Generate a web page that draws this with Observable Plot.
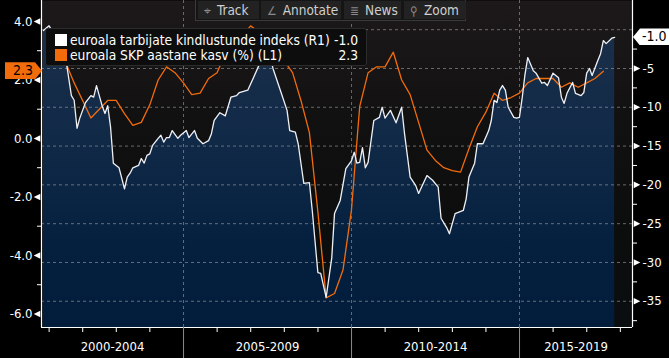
<!DOCTYPE html>
<html><head><meta charset="utf-8">
<script src="https://cdn.jsdelivr.net/npm/d3@7"></script>
<script src="https://cdn.jsdelivr.net/npm/@observablehq/plot@0.6"></script>
<style>
html,body{margin:0;padding:0;background:#000;overflow:hidden;}
#wrap{position:relative;width:669px;height:358px;overflow:hidden;font-family:"DejaVu Sans Condensed","DejaVu Sans",sans-serif;font-stretch:condensed;color:#fff;}
#wrap svg{position:absolute;left:0;top:0;}
.ov{position:absolute;box-sizing:border-box;}
#legend{left:45px;top:28px;width:322px;height:38px;background:#0d0d0d;border:1px solid #2c2c2c;border-radius:3px;}
.lrow{position:absolute;left:0;width:100%;height:15px;font-size:13.7px;line-height:15px;}
.sw{position:absolute;left:9px;top:1px;width:12px;height:12px;}
.lt{position:absolute;left:24px;top:0;white-space:nowrap;}
.lv{position:absolute;right:8px;top:0;}
#toolbar{left:195px;top:0;width:271px;height:21px;background:#151515;border:1px solid #3a3a3a;border-top:none;}
.btn{position:absolute;top:1px;height:18px;background:#222;color:#cfcfcf;font-size:13.5px;line-height:18px;white-space:nowrap;}
.btn .ic{color:#8a8a8a;margin:0 6px 0 6px;font-size:12px;}
.tag{position:absolute;height:17px;font-size:14px;line-height:17px;color:#000;}
</style></head>
<body><div id="wrap"></div>
<script>
// ---- data ----
const confMonths = ["2000-10","2000-12","2001-01","2001-02","2001-04","2001-06","2001-08","2001-09","2001-10","2001-11",
"2002-01","2002-03","2002-04","2002-05","2002-06","2002-07","2002-08","2002-09","2002-10","2002-11",
"2003-01","2003-03","2003-04","2003-05","2003-06","2003-08","2003-09","2003-10","2003-11","2003-12",
"2004-01","2004-03","2004-04","2004-05","2004-06","2004-07","2004-08","2004-10","2004-11",
"2005-01","2005-02","2005-04","2005-05","2005-07","2005-09","2005-10","2005-11",
"2006-01","2006-03","2006-05","2006-07","2006-08","2006-11",
"2007-01","2007-03","2007-05","2007-06","2007-08","2007-11",
"2008-01","2008-02","2008-04","2008-05","2008-07","2008-09","2008-10","2008-12",
"2009-01","2009-03","2009-05","2009-06","2009-08","2009-10","2009-12",
"2010-01","2010-02","2010-03","2010-04","2010-05","2010-06","2010-08","2010-10","2010-11","2010-12",
"2011-02","2011-04","2011-06","2011-07","2011-09","2011-11","2011-12",
"2012-03","2012-05","2012-07","2012-08","2012-10","2012-11",
"2013-01","2013-04","2013-05","2013-06","2013-08","2013-09","2013-11",
"2014-01","2014-02","2014-03","2014-04","2014-05","2014-06","2014-07","2014-08","2014-10","2014-11","2014-12",
"2015-01","2015-02","2015-03","2015-05","2015-06","2015-08","2015-09","2015-10","2015-12",
"2016-02","2016-03","2016-04","2016-05","2016-07","2016-08","2016-10","2016-11","2016-12",
"2017-01","2017-02","2017-04","2017-05","2017-06","2017-07","2017-09","2017-10"];
const confValues = [-0.1,0.5,-0.1,-0.5,-2.0,-3.7,-8.5,-9.1,-12.7,-11.4,
-9.4,-8.5,-8.7,-7.2,-8.5,-9.8,-10.8,-9.8,-12.6,-17.2,
-17.8,-20.5,-19.0,-18.5,-17.8,-17.5,-16.6,-17.2,-16.2,-16.0,
-14.9,-14.0,-13.6,-14.5,-13.9,-13.9,-13.0,-14.0,-13.6,
-13.0,-13.9,-13.0,-14.0,-14.7,-14.3,-13.4,-11.7,
-10.7,-11.1,-8.7,-8.5,-8.1,-7.8,
-6.2,-4.6,-1.6,-1.7,-5.0,-8.2,
-10.4,-13.0,-13.2,-14.7,-19.8,-19.7,-23.3,-31.3,
-31.4,-34.5,-29.4,-23.7,-22.0,-17.9,-16.9,
-15.8,-17.2,-17.1,-15.2,-17.8,-17.1,-11.7,-11.3,-10.0,-11.4,
-10.4,-12.0,-10.0,-13.4,-19.0,-20.1,-21.1,
-18.8,-19.4,-20.3,-24.3,-25.5,-26.3,
-23.7,-23.3,-21.8,-19.0,-17.2,-14.7,-14.7,
-13.0,-11.7,-9.1,-9.4,-7.8,-7.2,-7.8,-10.0,-11.3,-11.4,-11.3,
-8.7,-5.9,-3.6,-5.3,-5.6,-6.9,-6.8,-7.2,-5.6,
-6.2,-8.7,-9.5,-8.2,-6.8,-8.2,-8.5,-8.1,-5.6,
-5.0,-5.9,-4.0,-3.1,-1.4,-1.8,-1.1,-1.0];

const gdpQuarters = ["2000Q4",
"2001Q1","2001Q2","2001Q3","2001Q4","2002Q1","2002Q2","2002Q3","2002Q4",
"2003Q1","2003Q2","2003Q3","2003Q4","2004Q1","2004Q2","2004Q3","2004Q4",
"2005Q1","2005Q2","2005Q3","2005Q4","2006Q1","2006Q2","2006Q3","2006Q4",
"2007Q1","2007Q2","2007Q3","2007Q4","2008Q1","2008Q2","2008Q3","2008Q4",
"2009Q1","2009Q2","2009Q3","2009Q4","2010Q1","2010Q2","2010Q3","2010Q4",
"2011Q1","2011Q2","2011Q3","2011Q4","2012Q1","2012Q2","2012Q3","2012Q4",
"2013Q1","2013Q2","2013Q3","2013Q4","2014Q1","2014Q2","2014Q3","2014Q4",
"2015Q1","2015Q2","2015Q3","2015Q4","2016Q1","2016Q2","2016Q3","2016Q4",
"2017Q1","2017Q2"];
const gdpValues = [3.5,
3.0,2.6,1.9,1.3,0.7,1.0,1.3,1.3,
0.85,0.45,0.55,1.15,2.0,2.45,2.25,1.9,
1.5,1.55,2.05,2.25,2.9,3.3,3.5,3.85,
3.65,3.35,3.0,2.65,2.25,1.3,0.2,-2.5,
-5.45,-5.3,-4.5,-2.45,1.1,2.25,2.45,2.45,
2.95,2.0,1.5,0.55,-0.4,-0.75,-1.0,-1.1,
-1.15,-0.35,0.4,0.9,1.55,1.3,1.4,1.55,
1.9,2.05,2.05,2.05,1.75,1.9,1.75,1.9,
2.05,2.3];

const rightTicks = [-5,-10,-15,-20,-25,-30,-35];
const rightMinor = [-2.5,-7.5,-12.5,-17.5,-22.5,-27.5,-32.5,-37.5];
const gridTicks = [0,-5,-10,-15,-20,-25,-30,-35];
const leftTicks = [4,2,0,-2,-4,-6];
const leftMinor = [3,1,-1,-3,-5];
const yearTicks = [2001,2002,2003,2004,2006,2007,2008,2009,2011,2012,2013,2014,2016,2017,2018];
const separatorYears = [2005,2010,2015];
const periodLabels = ["2000-2004","2005-2009","2010-2014","2015-2019"];
const periodStarts = [2000,2005,2010,2015];
const seriesNames = ["euroala tarbijate kindlustunde indeks (R1)","euroala SKP aastane kasv (%) (L1)"];
const seriesColors = ["#ffffff","#f36c0c"];

// ---- helpers ----
const monthEnd = s => { const [y,m] = s.split("-").map(Number); return new Date(Date.UTC(y, m, 0)); };
const quarterEnd = s => { const y = +s.slice(0,4), q = +s.slice(5); return new Date(Date.UTC(y, q*3, 0)); };
const yearDate = y => new Date(Date.UTC(y,0,1));
// left axis (GDP) expressed on the right-axis (confidence) scale
const toRight = g => -14.02 + 3.769*g;
const fromRight = c => (c + 14.02)/3.769;

const conf = confMonths.map((s,i) => ({date: monthEnd(s), value: confValues[i]}));
const gdp = gdpQuarters.map((s,i) => ({date: quarterEnd(s), value: toRight(gdpValues[i])}));

const xDomain = [new Date(Date.UTC(2000,9,10)), new Date(Date.UTC(2018,4,13))];
const yDomain = [-38.38, 3.76];
const periods = periodLabels.map((label,i) => {
  const a = Math.max(+yearDate(periodStarts[i]), +xDomain[0]);
  const b = Math.min(+yearDate(periodStarts[i]+5), +xDomain[1]);
  return {label, center: new Date((a+b)/2)};
});

const leftArrow = {draw(ctx, size){ const r = Math.sqrt(size/Math.PI); ctx.moveTo(-r,0); ctx.lineTo(r,-r); ctx.lineTo(r,r); ctx.closePath(); }};
const rightArrow = {draw(ctx, size){ const r = Math.sqrt(size/Math.PI); ctx.moveTo(r,0); ctx.lineTo(-r,-r); ctx.lineTo(-r,r); ctx.closePath(); }};
const FONT = '"DejaVu Sans Condensed","DejaVu Sans",sans-serif';

const plot = Plot.plot({
  width: 669, height: 358,
  marginLeft: 41, marginRight: 37, marginTop: 0, marginBottom: 31,
  style: {background: "transparent", color: "#fff", fontFamily: FONT, fontSize: "13px", fontStretch: "condensed", overflow: "visible"},
  x: {type: "utc", domain: xDomain, axis: null, label: null},
  y: {domain: yDomain, axis: null, label: null},
  marks: [
    Plot.frame({fill: "url(#bgGrad)", stroke: "none"}),
    Plot.areaY(conf, {x: "date", y1: yDomain[0], y2: "value", fill: "url(#areaGrad)"}),
    Plot.gridY(gridTicks, {stroke: "#9a9a9a", strokeOpacity: 0.65, strokeDasharray: "3,3"}),
    Plot.gridX(separatorYears.map(yearDate), {stroke: "#9a9a9a", strokeOpacity: 0.65, strokeDasharray: "3,3"}),
    Plot.lineY(gdp, {x: "date", y: "value", stroke: seriesColors[1], strokeWidth: 1.3}),
    Plot.lineY(conf, {x: "date", y: "value", stroke: "#f0f0f4", strokeWidth: 1.3}),
    Plot.ruleX(xDomain, {stroke: "#fff", strokeWidth: 1.2}),
    Plot.ruleY([yDomain[0]], {stroke: "#fff", strokeWidth: 1.2}),
    // left axis (L1)
    Plot.axisY(leftTicks.map(toRight), {anchor: "left", label: null, tickSize: 0, tickPadding: 9, tickFormat: v => fromRight(v).toFixed(1), fill: "#fff", fontSize: 13}),
    Plot.axisY(leftMinor.map(toRight), {anchor: "left", label: null, tickSize: 4, tickFormat: () => "", stroke: "#fff"}),
    Plot.dot(leftTicks.map(toRight), {x: () => xDomain[0], y: d => d, symbol: leftArrow, r: 3.3, fill: "#fff", stroke: "none", dx: -4.5}),
    // right axis (R1)
    Plot.axisY(rightTicks, {anchor: "right", label: null, tickSize: 0, tickPadding: 10, tickFormat: v => String(v), fill: "#fff", fontSize: 13}),
    Plot.axisY(rightMinor, {anchor: "right", label: null, tickSize: 4, tickFormat: () => "", stroke: "#fff"}),
    Plot.dot(rightTicks, {x: () => xDomain[1], y: d => d, symbol: rightArrow, r: 3.3, fill: "#fff", stroke: "none", dx: 4.5}),
    // x axis
    Plot.axisX(yearTicks.map(yearDate), {anchor: "bottom", label: null, tickSize: 5, tickFormat: () => "", stroke: "#fff"}),
    Plot.axisX(separatorYears.map(yearDate), {anchor: "bottom", label: null, tickSize: 31, tickFormat: () => "", stroke: "#8a8a8a"}),
    Plot.text(periods, {x: "center", text: "label", frameAnchor: "bottom", dy: 23, fill: "#fff", fontSize: 13})
  ]
});

// gradients
const svg = d3.select(plot);
const defs = svg.insert("defs", ":first-child");
const bg = defs.append("linearGradient").attr("id","bgGrad").attr("gradientUnits","userSpaceOnUse").attr("x1",0).attr("y1",0).attr("x2",0).attr("y2",327);
[["0","#1d191a"],["0.35","#121112"],["0.7","#0c0d0d"],["1","#0a0e10"]].forEach(([o,c]) => bg.append("stop").attr("offset",o).attr("stop-color",c));
const ag = defs.append("linearGradient").attr("id","areaGrad").attr("gradientUnits","userSpaceOnUse").attr("x1",0).attr("y1",0).attr("x2",0).attr("y2",327);
[["0","#1d3048"],["0.4","#112a48"],["0.75","#05203f"],["1","#011d3b"]].forEach(([o,c]) => ag.append("stop").attr("offset",o).attr("stop-color",c));

const wrap = document.getElementById("wrap");
wrap.appendChild(plot);

// toolbar
const tb = document.createElement("div");
tb.className = "ov"; tb.id = "toolbar";
const buttons = [["⌖","Track",2,61],["∠","Annotate",65,80],["≣","News",148,57],["⚲","Zoom",208,62]];
buttons.forEach(([ic,t,l,w]) => {
  const b = document.createElement("div");
  b.className = "btn"; b.style.left = l + "px"; b.style.width = w + "px";
  b.innerHTML = `<span class="ic">${ic}</span>${t}`;
  tb.appendChild(b);
});
wrap.appendChild(tb);

// legend
const lastConf = confValues[confValues.length-1];
const lastGdp = gdpValues[gdpValues.length-1];
const lg = document.createElement("div");
lg.className = "ov"; lg.id = "legend";
[[seriesNames[0], seriesColors[0], lastConf, 4],[seriesNames[1], seriesColors[1], lastGdp, 19]].forEach(([n,c,v,t]) => {
  const r = document.createElement("div");
  r.className = "lrow"; r.style.top = t + "px";
  r.innerHTML = `<div class="sw" style="background:${c}"></div><div class="lt">${n}</div><div class="lv">${v.toFixed(1)}</div>`;
  lg.appendChild(r);
});
wrap.appendChild(lg);

// value tags positioned with the plot's y scale
const ys = plot.scale("y");
const yR = ys.apply(lastConf);
const yL = ys.apply(toRight(lastGdp));
const tr = document.createElement("div");
tr.className = "tag";
Object.assign(tr.style, {left: "633px", top: (yR-8.5) + "px", width: "36px", background: "#fff", paddingLeft: "9px", boxSizing: "border-box", clipPath: "polygon(0 50%, 7px 0, 100% 0, 100% 100%, 7px 100%)"});
tr.textContent = lastConf.toFixed(1);
wrap.appendChild(tr);
const tl = document.createElement("div");
tl.className = "tag";
Object.assign(tl.style, {left: "5px", top: (yL-8.5) + "px", width: "37px", background: seriesColors[1], paddingRight: "9px", textAlign: "right", boxSizing: "border-box", clipPath: "polygon(0 0, calc(100% - 7px) 0, 100% 50%, calc(100% - 7px) 100%, 0 100%)"});
tl.textContent = lastGdp.toFixed(1);
wrap.appendChild(tl);
</script></body></html>
